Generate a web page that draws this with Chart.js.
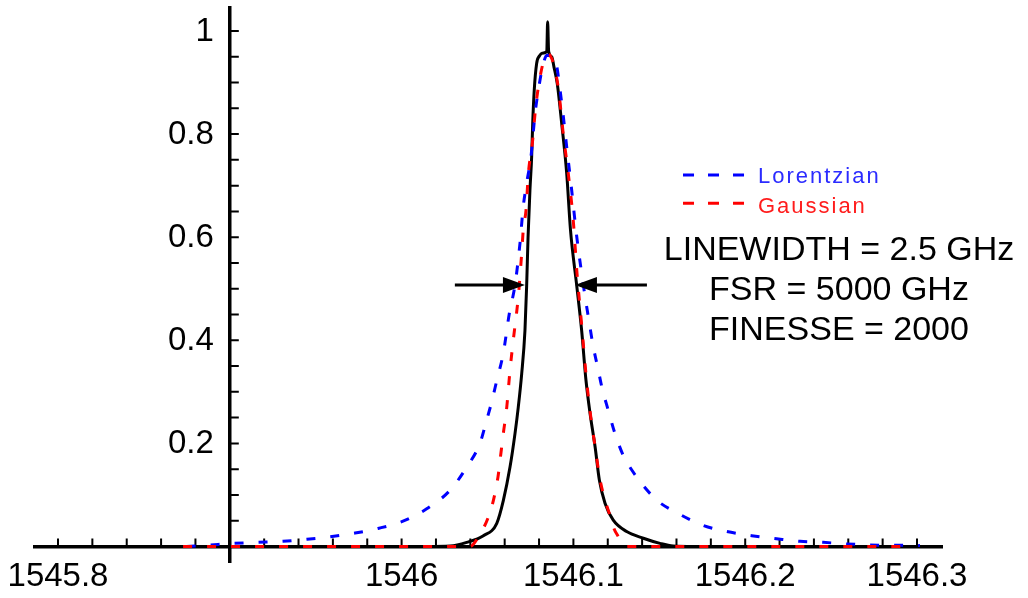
<!DOCTYPE html>
<html><head><meta charset="utf-8">
<script src="https://cdn.jsdelivr.net/npm/chart.js@4.4.1/dist/chart.umd.min.js"></script>
<style>html,body{margin:0;padding:0;background:#fff}canvas{display:block}</style>
</head><body>
<canvas id="c" width="1028" height="598"></canvas>
<script>
// ---- data ----
const xTickValues = [1545.8, 1546.0, 1546.1, 1546.2, 1546.3];
const xTickLabels = ['1545.8', '1546', '1546.1', '1546.2', '1546.3'];
const yTickValues = [0.2, 0.4, 0.6, 0.8, 1.0];
const yTickLabels = ['0.2', '0.4', '0.6', '0.8', '1'];

const measuredX = [1546.0107, 1546.0282, 1546.0379, 1546.0476, 1546.0554, 1546.0592, 1546.0631, 1546.0660, 1546.0679, 1546.0699, 1546.0718, 1546.0728, 1546.0736, 1546.0747, 1546.0757, 1546.0763, 1546.0772, 1546.0786, 1546.0803, 1546.0817, 1546.0845, 1546.0850, 1546.0856, 1546.0874, 1546.0887, 1546.0906, 1546.0932, 1546.0961, 1546.0983, 1546.1019, 1546.1048, 1546.1073, 1546.1097, 1546.1126, 1546.1151, 1546.1184, 1546.1232, 1546.1310, 1546.1407, 1546.1504, 1546.1580, 1546.1737];
const measuredY = [0, 0.001, 0.008, 0.021, 0.045, 0.089, 0.154, 0.219, 0.27, 0.335, 0.419, 0.507, 0.6, 0.691, 0.756, 0.82, 0.885, 0.937, 0.952, 0.957, 0.96, 1.018, 0.96, 0.95, 0.93, 0.898, 0.82, 0.724, 0.614, 0.507, 0.419, 0.323, 0.258, 0.194, 0.129, 0.084, 0.051, 0.029, 0.016, 0.006, 0.001, 0];

const lorentzX = [1545.8749, 1545.8885, 1545.9019, 1545.9164, 1545.9310, 1545.9449, 1545.9583, 1545.9729, 1545.9863, 1546.0008, 1546.0146, 1546.0282, 1546.0379, 1546.0456, 1546.0495, 1546.0524, 1546.0554, 1546.0592, 1546.0627, 1546.0660, 1546.0689, 1546.0708, 1546.0728, 1546.0753, 1546.0777, 1546.0796, 1546.0821, 1546.0846, 1546.0893, 1546.0932, 1546.0961, 1546.0990, 1546.1018, 1546.1058, 1546.1087, 1546.1116, 1546.1145, 1546.1165, 1546.1203, 1546.1242, 1546.1290, 1546.1368, 1546.1485, 1546.1611, 1546.1754, 1546.1892, 1546.2038, 1546.2183, 1546.2319, 1546.2453, 1546.2591, 1546.2726, 1546.3017];
const lorentzY = [0, 0.003, 0.006, 0.008, 0.01, 0.014, 0.019, 0.026, 0.035, 0.049, 0.073, 0.109, 0.154, 0.2, 0.245, 0.28, 0.322, 0.375, 0.452, 0.507, 0.588, 0.659, 0.705, 0.756, 0.84, 0.885, 0.931, 0.953, 0.944, 0.86, 0.775, 0.691, 0.605, 0.507, 0.445, 0.387, 0.342, 0.31, 0.264, 0.219, 0.177, 0.135, 0.09, 0.064, 0.041, 0.029, 0.021, 0.015, 0.01, 0.008, 0.005, 0.003, 0.002];

const gaussX = [1545.8728, 1546.0398, 1546.0446, 1546.0505, 1546.0534, 1546.0561, 1546.0573, 1546.0592, 1546.0612, 1546.0631, 1546.0650, 1546.0679, 1546.0699, 1546.0708, 1546.0724, 1546.0738, 1546.0761, 1546.0781, 1546.0806, 1546.0835, 1546.0852, 1546.0864, 1546.0912, 1546.0941, 1546.0970, 1546.0999, 1546.1021, 1546.1048, 1546.1073, 1546.1097, 1546.1126, 1546.1155, 1546.1184, 1546.1213, 1546.1236, 1546.1261, 1546.1281, 1546.1295, 1546.2988];
const gaussY = [0, 0, 0.018, 0.057, 0.089, 0.135, 0.167, 0.219, 0.27, 0.342, 0.4, 0.484, 0.569, 0.614, 0.652, 0.724, 0.782, 0.854, 0.911, 0.95, 0.955, 0.953, 0.89, 0.8, 0.724, 0.633, 0.53, 0.43, 0.335, 0.262, 0.194, 0.13, 0.09, 0.06, 0.035, 0.019, 0.006, 0, 0];

const seriesNames = ['Lorentzian', 'Gaussian'];
const noteLines = ['LINEWIDTH = 2.5 GHz', 'FSR = 5000 GHz', 'FINESSE = 2000'];
const noteBaselines = [0.5558, 0.4782, 0.4006];
const noteCenterX = 1546.2546;
const legendLineX = [1546.1638, 1546.1999];
const legendTextX = 1546.2074;
const legendLineY = [0.7207, 0.6658];
const legendTextY = [0.7046, 0.6475];
const arrowY = 0.5073;
const leftArrowX = [1546.0310, 1546.0718];   // tail, tip
const rightArrowX = [1546.1428, 1546.1009];  // tail, tip

const FONT = "'Liberation Sans', Arial, Helvetica, sans-serif";
const pts = (xs, ys) => xs.map((v, i) => ({ x: v, y: ys[i] }));
const noPad = s => { s.paddingTop = 0; s.paddingBottom = 0; s.paddingLeft = 0; s.paddingRight = 0; };

const deco = {
  id: 'deco',
  beforeDatasetsDraw(chart) {
    const { ctx, scales: { x, y } } = chart;
    ctx.save();
    ctx.strokeStyle = '#000';
    ctx.lineWidth = 2;
    ctx.beginPath();
    const axisY = y.getPixelForValue(0);
    for (let i = 0; i <= 25; i++) {
      const v = 1545.8 + i * 0.02;
      if (Math.abs(v - 1545.9) < 1e-6) continue;
      const px = x.getPixelForValue(v);
      ctx.moveTo(px, axisY); ctx.lineTo(px, axisY - 8);
    }
    const axisX = x.getPixelForValue(1545.9);
    for (let i = 1; i <= 20; i++) {
      const py = y.getPixelForValue(i * 0.05);
      ctx.moveTo(axisX, py); ctx.lineTo(axisX + 9, py);
    }
    ctx.stroke();
    // y tick labels, right-aligned left of the axis
    ctx.fillStyle = '#000';
    ctx.font = '33px ' + FONT;
    ctx.textAlign = 'right'; ctx.textBaseline = 'middle';
    yTickValues.forEach((v, i) => ctx.fillText(yTickLabels[i], axisX - 16, y.getPixelForValue(v) + 1));
    ctx.restore();
  },
  afterDraw(chart) {
    const { ctx, scales: { x, y } } = chart;
    ctx.save();
    // legend
    const lcol = ['#0000ff', '#ff0000'];
    const tcol = ['#2b2bff', '#ff1c1c'];
    for (let i = 0; i < 2; i++) {
      ctx.strokeStyle = lcol[i]; ctx.lineWidth = 3; ctx.setLineDash([11, 14]);
      ctx.beginPath();
      const ly = y.getPixelForValue(legendLineY[i]);
      ctx.moveTo(x.getPixelForValue(legendLineX[0]), ly);
      ctx.lineTo(x.getPixelForValue(legendLineX[1]), ly);
      ctx.stroke();
      ctx.setLineDash([]);
      ctx.fillStyle = tcol[i];
      ctx.font = '22px ' + FONT;
      ctx.letterSpacing = '2px';
      ctx.textAlign = 'left'; ctx.textBaseline = 'alphabetic';
      ctx.fillText(seriesNames[i], x.getPixelForValue(legendTextX), y.getPixelForValue(legendTextY[i]));
    }
    ctx.letterSpacing = '0px';
    // notes
    ctx.fillStyle = '#000';
    ctx.font = '34px ' + FONT;
    ctx.textAlign = 'center';
    noteLines.forEach((t, i) => ctx.fillText(t, x.getPixelForValue(noteCenterX), y.getPixelForValue(noteBaselines[i])));
    // arrows
    const ay = y.getPixelForValue(arrowY);
    [leftArrowX, rightArrowX].forEach(a => {
      const tail = x.getPixelForValue(a[0]);
      const tip = x.getPixelForValue(a[1]);
      const dir = Math.sign(tip - tail);
      const base = tip - dir * 22;
      ctx.strokeStyle = '#000'; ctx.lineWidth = 3;
      ctx.beginPath(); ctx.moveTo(tail, ay); ctx.lineTo(base + dir * 2, ay); ctx.stroke();
      ctx.fillStyle = '#000';
      ctx.beginPath(); ctx.moveTo(tip, ay); ctx.lineTo(base, ay - 8); ctx.lineTo(base, ay + 8); ctx.closePath(); ctx.fill();
    });
    ctx.restore();
  }
};

new Chart(document.getElementById('c'), {
  type: 'line',
  data: {
    datasets: [
      { label: 'Gaussian', data: pts(gaussX, gaussY), borderColor: '#ff0000', borderWidth: 3, borderDash: [9, 15], order: 1 },
      { label: 'Lorentzian', data: pts(lorentzX, lorentzY), borderColor: '#0000ff', borderWidth: 3, borderDash: [9, 15], order: 2 },
      { label: 'Measured', data: pts(measuredX, measuredY), borderColor: '#000000', borderWidth: 3, order: 3 }
    ]
  },
  options: {
    responsive: false,
    animation: false,
    devicePixelRatio: 1,
    layout: { padding: { left: 35, right: 86, top: 8, bottom: 36 } },
    elements: { point: { radius: 0 }, line: { fill: false, cubicInterpolationMode: 'monotone' } },
    plugins: { legend: { display: false }, tooltip: { enabled: false } },
    scales: {
      x: {
        type: 'linear', min: 1545.78661, max: 1546.31455,
        position: { y: 0 },
        grid: { display: true, drawOnChartArea: false, drawTicks: false },
        border: { display: true, color: '#000', width: 3.5 },
        afterBuildTicks: s => { s.ticks = xTickValues.map(v => ({ value: v })); },
        afterFit: noPad,
        ticks: { autoSkip: false, maxRotation: 0, padding: 11, color: '#000', font: { family: FONT, size: 33 },
          callback: (v, i) => xTickLabels[i] }
      },
      y: {
        type: 'linear', min: -0.0301, max: 1.0446,
        position: { x: 1545.9 },
        grid: { display: true, drawOnChartArea: false, drawTicks: false },
        border: { display: true, color: '#000', width: 3.5 },
        afterBuildTicks: s => { s.ticks = yTickValues.map(v => ({ value: v })); },
        afterFit: noPad,
        ticks: { display: false }
      }
    }
  },
  plugins: [deco]
});
</script>
</body></html>
